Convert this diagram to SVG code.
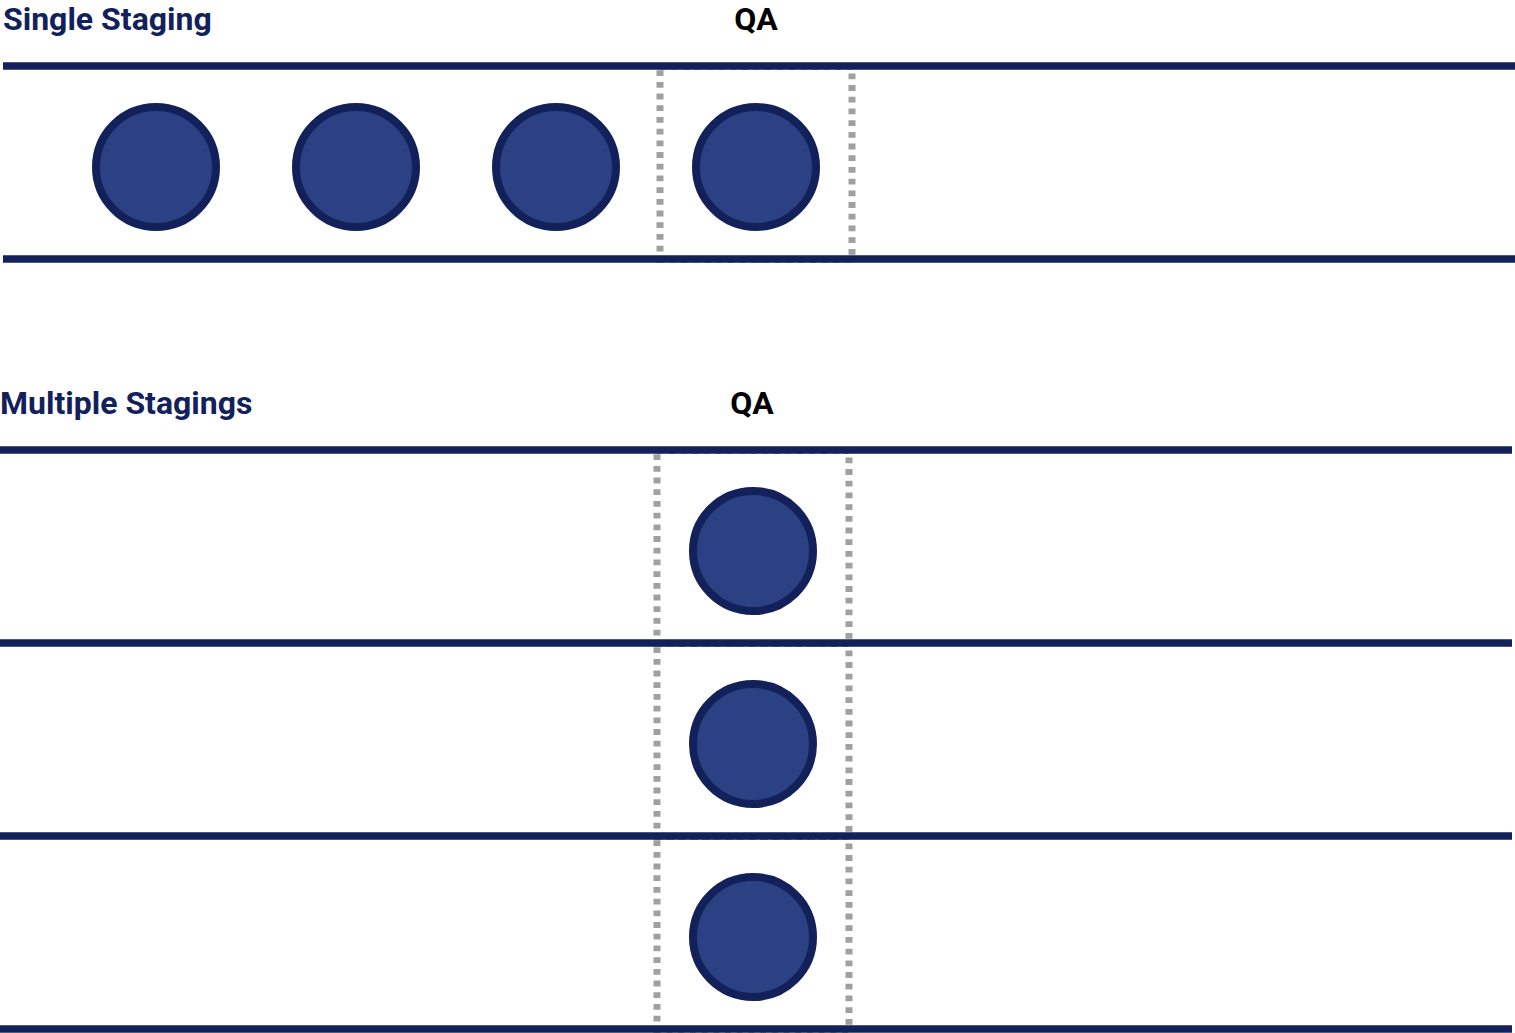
<svg xmlns="http://www.w3.org/2000/svg" width="1515" height="1033" viewBox="0 0 1515 1033">
<style>
.title{font-family:Roboto,"Liberation Sans",sans-serif;font-weight:bold;font-size:32px;fill:#13215a}
.qa{font-family:Roboto,"Liberation Sans",sans-serif;font-weight:bold;font-size:32px;fill:#000;text-anchor:middle}
.lane{stroke:#13215a;stroke-width:7.5}
.box{fill:none;stroke:#a0a0a0;stroke-width:7;stroke-dasharray:5.8 5.9}
.node{fill:#2c4084;stroke:#13215a;stroke-width:8}
</style>
<rect width="1515" height="1033" fill="#fff"/>
<g id="single-staging">
<text class="title" x="3" y="30">Single Staging</text>
<text class="qa" x="756" y="30">QA</text>
<rect id="qa-box-1" class="box" x="660" y="66.5" width="192" height="193"/>
</g>
<g id="multiple-stagings">
<text class="title" x="0" y="414">Multiple Stagings</text>
<text class="qa" x="752" y="414">QA</text>
<rect id="qa-box-2" class="box" x="657" y="450.5" width="192" height="193"/>
<rect id="qa-box-3" class="box" x="657" y="643.5" width="192" height="193"/>
<rect id="qa-box-4" class="box" x="657" y="836.5" width="192" height="193"/>
</g>
<g id="connectors">
<line class="lane" x1="3" y1="66" x2="1515" y2="66"/>
<line class="lane" x1="3" y1="259" x2="1515" y2="259"/>
<line class="lane" x1="0" y1="450" x2="1512" y2="450"/>
<line class="lane" x1="0" y1="643" x2="1512" y2="643"/>
<line class="lane" x1="0" y1="836" x2="1512" y2="836"/>
<line class="lane" x1="0" y1="1029" x2="1512" y2="1029"/>
</g>
<g id="node-1"><circle class="node" cx="156" cy="167" r="60"/></g>
<g id="node-2"><circle class="node" cx="356" cy="167" r="60"/></g>
<g id="node-3"><circle class="node" cx="556" cy="167" r="60"/></g>
<g id="node-4"><circle class="node" cx="756" cy="167" r="60"/></g>
<g id="node-5"><circle class="node" cx="753" cy="551" r="60"/></g>
<g id="node-6"><circle class="node" cx="753" cy="744" r="60"/></g>
<g id="node-7"><circle class="node" cx="753" cy="937" r="60"/></g>
</svg>
